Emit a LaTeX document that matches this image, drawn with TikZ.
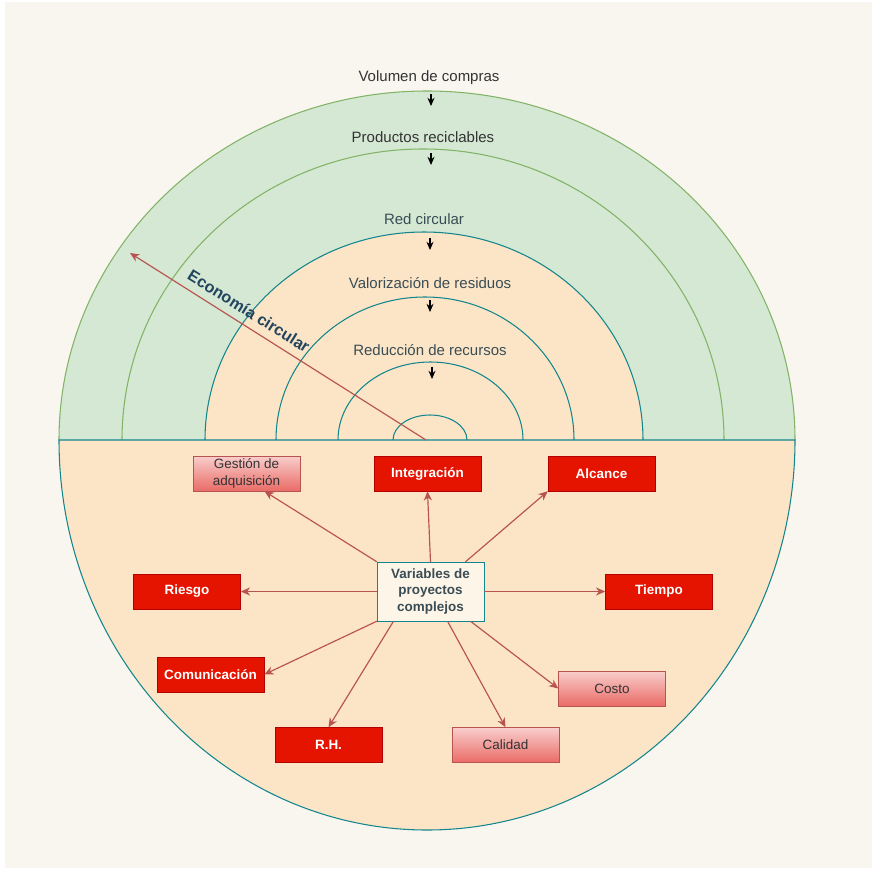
\documentclass[tikz,border=0pt]{standalone}
\usepackage{fontspec}
\setmainfont{Liberation Sans}
\usetikzlibrary{arrows.meta, calc, positioning}
\definecolor{bgcream}{HTML}{F9F6EF}
\definecolor{greenfill}{HTML}{D5E8D4}
\definecolor{greenline}{HTML}{82B366}
\definecolor{orangefill}{HTML}{FCE5C7}
\definecolor{tealline}{HTML}{12868C}
\definecolor{redfill}{HTML}{E51400}
\definecolor{redline}{HTML}{B20000}
\definecolor{pinktop}{HTML}{F8CECC}
\definecolor{pinkbottom}{HTML}{EA6B66}
\definecolor{pinkline}{HTML}{B85450}
\definecolor{slatetext}{HTML}{3A4D54}
\definecolor{darkslate}{HTML}{23445D}
\tikzset{greenring/.style={fill=greenfill, draw=greenline, line width=0.9pt}}
\tikzset{tealring/.style={fill=orangefill, draw=tealline, line width=0.9pt}}
\tikzset{ringlabel/.style={font=\fontsize{12.8}{15}\selectfont, text=slatetext}}
\tikzset{downtick/.style={-{Stealth[length=7pt, width=6pt]}, line width=0.9pt, black}}
\tikzset{varbox/.style={draw, minimum width=3.21cm, minimum height=1.05cm, inner sep=1pt, align=center, font=\fontsize{11.5}{14.5}\selectfont}}
\tikzset{redbox/.style={varbox, fill=redfill, draw=redline, text=white, font=\fontsize{11.5}{14.5}\selectfont\bfseries}}
\tikzset{pinkbox/.style={varbox, top color=pinktop, bottom color=pinkbottom, draw=pinkline, text=black!80}}
\tikzset{centerbox/.style={varbox, fill=white!60!orangefill, draw=tealline, text=slatetext, minimum height=1.77cm, font=\fontsize{11.5}{14.5}\selectfont\bfseries}}
\tikzset{edge/.style={-{Stealth[length=8pt, width=7pt]}, draw=pinkline, line width=1pt}}

\begin{document}
\begin{tikzpicture}[x=0.03cm, y=0.03cm]
    \useasboundingbox (0,0) rectangle (872,-870);
    \fill [bgcream] (5,-2) rectangle (872,-868);

    % rings of the circular economy
    \path [greenring] (59,-440) arc [start angle=180, end angle=0, x radius=368, y radius=349];
    \path [greenring] (122,-440) arc [start angle=180, end angle=0, x radius=301, y radius=291];
    \path [tealring] (205,-440) arc [start angle=180, end angle=0, x radius=219, y radius=208];
    \path [tealring] (276,-440) arc [start angle=180, end angle=0, x radius=149, y radius=143];
    \path [tealring] (338,-440) arc [start angle=180, end angle=0, x radius=92.5, y radius=78];
    \path [tealring] (393,-440) arc [start angle=180, end angle=0, x radius=37, y radius=25];

    % lower half
    \draw [tealring] (59,-440) arc [start angle=180, end angle=360, x radius=368, y radius=390] -- cycle;

    \node [ringlabel, text=black!80] (Lvol) at (429,-78) {Volumen de compras};
    \node [ringlabel, text=black!80] (Lprod) at (423,-137) {Productos reciclables};
    \node [ringlabel] (Lred) at (424,-219) {Red circular};
    \node [ringlabel] (Lval) at (430,-283) {Valorización de residuos};
    \node [ringlabel] (Lred2) at (430,-350) {Reducción de recursos};

    \coordinate (T1a) at (431,-94);  \coordinate (T1b) at (431,-106);
    \coordinate (T2a) at (431,-153); \coordinate (T2b) at (431,-165);
    \coordinate (T3a) at (430,-238); \coordinate (T3b) at (430,-250);
    \coordinate (T4a) at (430,-300); \coordinate (T4b) at (430,-312);
    \coordinate (T5a) at (432,-367); \coordinate (T5b) at (432,-379);
    \draw [downtick] (T1a) -- (T1b);
    \draw [downtick] (T2a) -- (T2b);
    \draw [downtick] (T3a) -- (T3b);
    \draw [downtick] (T4a) -- (T4b);
    \draw [downtick] (T5a) -- (T5b);

    % economia circular
    \coordinate (Origen) at (426,-440);
    \coordinate (Ecotip) at (130,-253);
    \draw [edge] (Origen) -- (Ecotip);
    \node [font=\fontsize{13.8}{16}\selectfont\bfseries, text=darkslate, rotate=-32, inner sep=0pt] (Eco) at (249,-311) {Economía circular};

    % variables
    \node [centerbox] (Var) at (430.5,-591.5) {Variables de\\proyectos\\complejos};
    \node [pinkbox] (Gest) at (246.5,-473.5) {Gestión de\\adquisición};
    \node [redbox] (Integ) at (427.5,-473.5) {Integración};
    \node [redbox] (Alc) at (601.5,-473.5) {Alcance};
    \node [redbox] (Ries) at (187,-591.5) {Riesgo};
    \node [redbox] (Tiem) at (659,-591.5) {Tiempo};
    \node [redbox] (Comu) at (210.5,-674.5) {Comunicación};
    \node [pinkbox] (Costo) at (612,-688.5) {Costo};
    \node [redbox] (RH) at (328.5,-745) {R.H.};
    \node [pinkbox] (Cal) at (505.5,-745) {Calidad};

    \draw [edge] (Var.north west) -- ($(Gest.south)+(18,0)$);
    \draw [edge] (Var.north) -- (Integ.south);
    \draw [edge] ($(Var.north)+(35,0)$) -- (Alc.south west);
    \draw [edge] (Var.west) -- (Ries.east);
    \draw [edge] (Var.east) -- (Tiem.west);
    \draw [edge] (Var.south west) -- (Comu.east);
    \draw [edge] ($(Var.south)+(-37,0)$) -- (RH.north);
    \draw [edge] ($(Var.south)+(17,0)$) -- (Cal.north);
    \draw [edge] ($(Var.south)+(40,0)$) -- (Costo.west);
\end{tikzpicture}
\end{document}
